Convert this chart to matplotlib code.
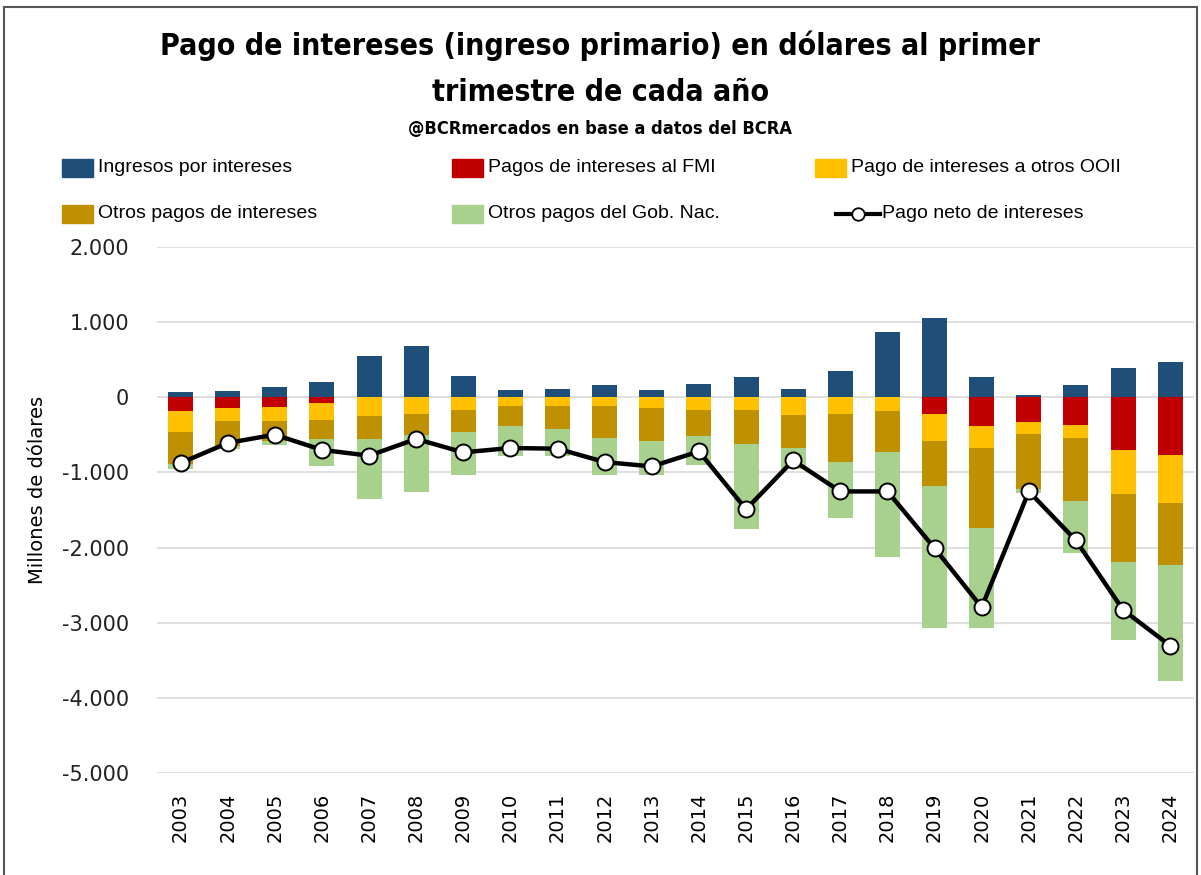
import matplotlib
matplotlib.use("Agg")
import matplotlib.pyplot as plt
import numpy as np
from matplotlib import font_manager
from matplotlib.patches import Rectangle
from matplotlib.lines import Line2D
from matplotlib.ticker import FuncFormatter

years = [str(y) for y in range(2003, 2025)]

# millones de USD (magnitudes; pagos se apilan hacia abajo)
ingresos = [67, 80, 133, 209, 546, 688, 284, 98, 115, 160, 98, 178,
            266, 111, 355, 866, 1057, 266, 30, 160, 390, 466]
pagos_fmi = [178, 147, 124, 80, 0, 0, 0, 0, 0, 0, 0, 0,
             0, 0, 0, 0, 222, 386, 325, 364, 706, 773]
pagos_ooii = [289, 173, 196, 222, 244, 218, 164, 120, 120, 120, 142, 164,
              164, 236, 218, 178, 364, 289, 165, 178, 582, 635]
otros_pagos = [422, 324, 258, 254, 311, 279, 298, 266, 302, 422, 435, 356,
               453, 444, 644, 555, 591, 1065, 735, 844, 910, 822]
gob_nac = [67, 45, 58, 355, 795, 764, 568, 400, 364, 498, 463, 386,
           1139, 270, 746, 1387, 1898, 1335, 50, 689, 1030, 1547]
pago_neto = [-875, -608, -497, -700, -777, -555, -733, -675, -684, -862, -920, -720,
             -1490, -840, -1253, -1253, -2008, -2795, -1253, -1906, -2830, -3306]

series_neg = [
    ("Pagos de intereses al FMI", pagos_fmi, "#C00000"),
    ("Pago de intereses a otros OOII", pagos_ooii, "#FFC000"),
    ("Otros pagos de intereses", otros_pagos, "#BF9000"),
    ("Otros pagos del Gob. Nac.", gob_nac, "#A9D18E"),
]
color_ing = "#1F4E79"


def pick_condensed():
    """Busca una fuente angosta en negrita; si no hay, Liberation Sans."""
    cands = []
    for f in font_manager.fontManager.ttflist:
        w = f.weight if isinstance(f.weight, int) else 400
        narrow = ("Narrow" in f.name or "Condensed" in f.name
                  or str(f.stretch) in ("condensed", "semi-condensed", "extra-condensed"))
        if narrow and (w >= 600 or f.weight == "bold"):
            cands.append(f)
    if cands:
        f = cands[0]
        return dict(family=[f.name, "DejaVu Sans"], fontstretch=f.stretch)
    return dict(family=["Liberation Sans", "DejaVu Sans"])


title_kw = pick_condensed()
body_font = ["Liberation Sans", "DejaVu Sans"]

fig = plt.figure(figsize=(12.01, 8.75), dpi=100)
ax = fig.add_axes([0.1307, 0.1166, 0.8633, 0.6011])

x = np.arange(len(years))
w = 0.53

ax.bar(x, ingresos, width=w, color=color_ing, zorder=2)
bottom = np.zeros(len(years))
for name, vals, col in series_neg:
    v = -np.array(vals, dtype=float)
    ax.bar(x, v, width=w, bottom=bottom, color=col, zorder=2)
    bottom = bottom + v

ax.plot(x, pago_neto, color="black", linewidth=3.2, marker="o", markersize=11.5,
        markerfacecolor="white", markeredgecolor="black", markeredgewidth=1.4, zorder=4)

ax.set_xlim(-0.5, len(years) - 0.5)
ax.set_ylim(-5000, 2000)
ax.set_yticks(np.arange(-5000, 2001, 1000))
ax.yaxis.set_major_formatter(FuncFormatter(lambda v, p: f"{int(v):,}".replace(",", ".")))
ax.set_xticks(x)
ax.set_xticklabels(years, rotation=90, fontsize=14)
ax.tick_params(axis="x", length=0, pad=14)
ax.tick_params(axis="y", length=0, pad=20, labelsize=15, labelcolor="#222222")
ax.grid(axis="y", color="#D9D9D9", linewidth=1.2, zorder=0)
ax.set_axisbelow(True)
for s in ax.spines.values():
    s.set_visible(False)

fig.text(0.031, 0.44, "Millones de dólares", rotation=90, ha="center", va="center",
         fontsize=14)

# titulos
t1 = fig.text(0.5, 0.948, "Pago de intereses (ingreso primario) en dólares al primer",
              ha="center", va="center", fontsize=28, fontweight="bold", **title_kw)
t2 = fig.text(0.5, 0.894, "trimestre de cada año", ha="center", va="center",
              fontsize=28, fontweight="bold", **title_kw)
t3 = fig.text(0.5, 0.853, "@BCRmercados en base a datos del BCRA", ha="center",
              va="center", fontsize=15, fontweight="bold", **title_kw)

# ajustar tamaño al ancho del original
fig.canvas.draw()
r = fig.canvas.get_renderer()
s1 = min(28.0, 28.0 * 880.0 / t1.get_window_extent(r).width)
t1.set_fontsize(s1)
t2.set_fontsize(s1)
t3.set_fontsize(min(16.0, 15.0 * 385.0 / t3.get_window_extent(r).width))

# leyenda manual (3 columnas x 2 filas)
legend_items = [("Ingresos por intereses", color_ing)] + [(n, c) for n, _, c in series_neg]
col_x = [62, 452, 815]
row_y = [168, 214]
W, H = 1201.0, 875.0
for i, (name, col) in enumerate(legend_items):
    cx = col_x[i % 3]
    cy = row_y[i // 3]
    fig.patches.append(Rectangle((cx / W, 1 - (cy + 9) / H), 31 / W, 18 / H,
                                 transform=fig.transFigure, color=col))
    fig.text((cx + 36) / W, 1 - cy / H, name, ha="left", va="center", fontsize=14,
             family=body_font)
cx, cy = 836, row_y[1]
fig.lines.append(Line2D([cx / W, (cx + 44) / W], [1 - cy / H, 1 - cy / H],
                        transform=fig.transFigure, color="black", linewidth=3))
fig.lines.append(Line2D([(cx + 22) / W], [1 - cy / H], transform=fig.transFigure,
                        marker="o", markersize=9, markerfacecolor="white",
                        markeredgecolor="black", markeredgewidth=1.3, linestyle="none"))
fig.text((cx + 46) / W, 1 - cy / H, "Pago neto de intereses", ha="left", va="center",
         fontsize=14, family=body_font)

# borde
fig.patches.append(Rectangle((0.003, -0.02), 0.994, 1.012, transform=fig.transFigure,
                             fill=False, edgecolor="#555555", linewidth=1.5))

fig.savefig("out.png", dpi=100)
